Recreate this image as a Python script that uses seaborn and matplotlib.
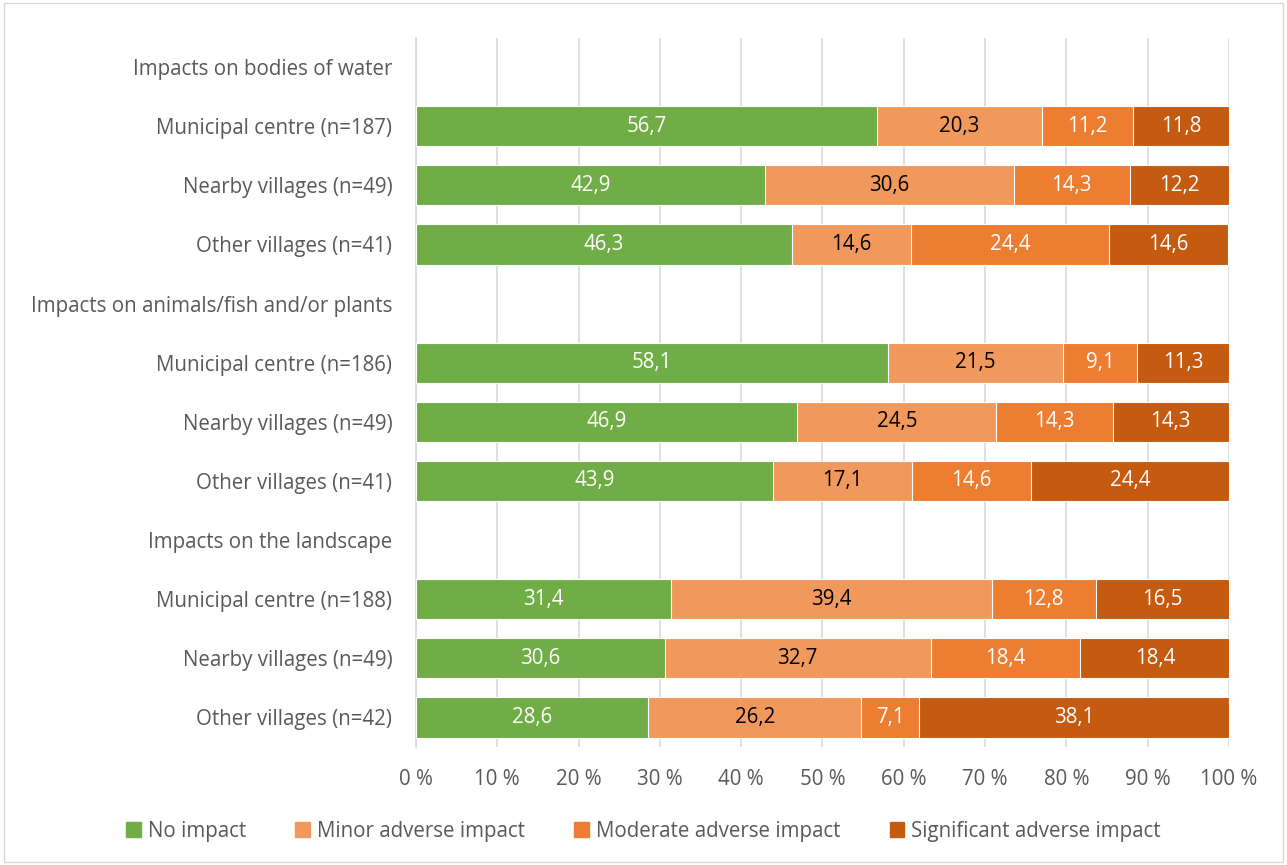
import matplotlib
matplotlib.use("Agg")
import matplotlib.pyplot as plt
import seaborn as sns
import pandas as pd
import numpy as np

row_labels = [
    "Impacts on bodies of water",
    "Municipal centre (n=187)", "Nearby villages (n=49)", "Other villages (n=41)",
    "Impacts on animals/fish and/or plants",
    "Municipal centre (n=186)", "Nearby villages (n=49)", "Other villages (n=41)",
    "Impacts on the landscape",
    "Municipal centre (n=188)", "Nearby villages (n=49)", "Other villages (n=42)",
]
series = ["No impact", "Minor adverse impact", "Moderate adverse impact", "Significant adverse impact"]
no_impact = [np.nan, 56.7, 42.9, 46.3, np.nan, 58.1, 46.9, 43.9, np.nan, 31.4, 30.6, 28.6]
minor = [np.nan, 20.3, 30.6, 14.6, np.nan, 21.5, 24.5, 17.1, np.nan, 39.4, 32.7, 26.2]
moderate = [np.nan, 11.2, 14.3, 24.4, np.nan, 9.1, 14.3, 14.6, np.nan, 12.8, 18.4, 7.1]
significant = [np.nan, 11.8, 12.2, 14.6, np.nan, 11.3, 14.3, 24.4, np.nan, 16.5, 18.4, 38.1]
x_ticks = [0, 10, 20, 30, 40, 50, 60, 70, 80, 90, 100]
x_tick_labels = ["0 %", "10 %", "20 %", "30 %", "40 %", "50 %", "60 %", "70 %", "80 %", "90 %", "100 %"]

colors = ["#70AD47", "#F1985C", "#ED7D31", "#C55A11"]
label_colors = ["white", "black", "white", "white"]
text_grey = "#595959"
fs = 14.8

sns.set_theme(style="white")
plt.rcParams["font.family"] = ["Open Sans", "DejaVu Sans"]

vals = np.array([no_impact, minor, moderate, significant], dtype=float)
keys = [f"r{i}" for i in range(len(row_labels))]
cum = np.nancumsum(vals, axis=0)
cum[:, np.isnan(vals[0])] = np.nan

fig = plt.figure(figsize=(12.87, 8.65), dpi=100)
ax = fig.add_axes([0.3232, 0.1364, 0.9549 - 0.3232, 0.9566 - 0.1364])

# draw cumulative stacks from the outermost inward
for s in range(3, -1, -1):
    df = pd.DataFrame({"row": keys, "value": cum[s]})
    df = df.dropna()
    sns.barplot(data=df, x="value", y="row", order=keys, color=colors[s],
                orient="h", width=0.68, edgecolor="white", linewidth=0.8,
                ax=ax, errorbar=None, saturation=1, zorder=3)

# data labels
for i in range(len(keys)):
    if np.isnan(vals[0, i]):
        continue
    left = 0.0
    for s in range(4):
        v = vals[s, i]
        ax.text(left + v / 2, i, f"{v:.1f}".replace(".", ","), ha="center", va="center",
                color=label_colors[s], fontsize=fs, zorder=5)
        left += v

ax.set_xlim(0, 100)
ax.set_ylim(len(keys) - 0.5, -0.5)
ax.set_xticks(x_ticks)
ax.set_xticklabels(x_tick_labels, color=text_grey, fontsize=fs)
ax.set_yticks(range(len(keys)))
ax.set_yticklabels(row_labels, color=text_grey, fontsize=fs)
ax.set_xlabel("")
ax.set_ylabel("")
ax.xaxis.grid(True, color="#D9D9D9", linewidth=1.2, zorder=0)
ax.set_axisbelow(True)
for sp in ["top", "right", "bottom"]:
    ax.spines[sp].set_visible(False)
ax.spines["left"].set_color("#D9D9D9")
ax.spines["left"].set_linewidth(1.2)
ax.tick_params(axis="y", length=0, pad=17)
ax.tick_params(axis="x", length=0, pad=16)

handles = [plt.Rectangle((0, 0), 1, 1, color=c) for c in colors]
fig.legend(handles, series, loc="center", bbox_to_anchor=(0.5, 0.039), ncol=4,
           frameon=False, fontsize=fs, handlelength=0.7, handleheight=0.7,
           columnspacing=2.4, handletextpad=0.35, labelcolor=text_grey)

border = plt.Rectangle((0.003, 0.003), 0.994, 0.994, transform=fig.transFigure,
                       fill=False, edgecolor="#D9D9D9", linewidth=1)
fig.patches.append(border)

fig.savefig("out.png", dpi=100)
